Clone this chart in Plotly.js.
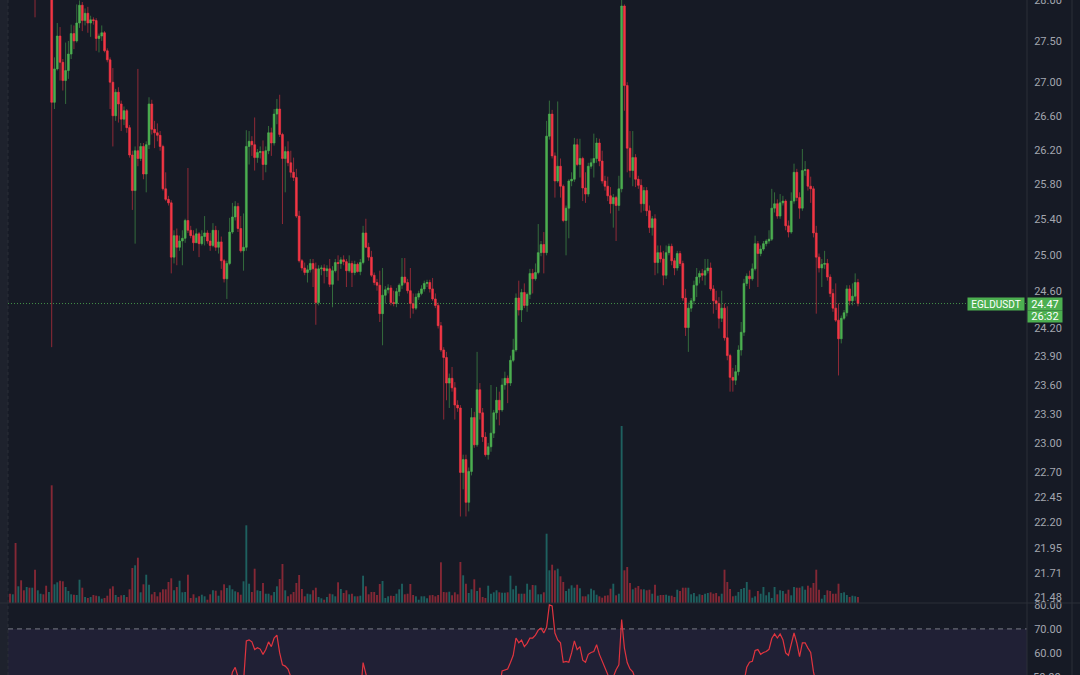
<!DOCTYPE html>
<html><head><meta charset="utf-8">
<script src="https://cdn.plot.ly/plotly-3.0.1.min.js"></script>
<style>html,body{margin:0;padding:0;background:#161a25;overflow:hidden}#chart{width:1080px;height:675px}</style>
</head><body><div id="chart"></div>
<script>
const symbol = 'EGLDUSDT';
const countdown = '26:32';

const open = [
28.62,28.55,28.60,28.30,28.42,28.28,28.22,28.35,28.27,28.40,
28.12,28.25,28.33,28.28,28.20,28.26,26.76,27.16,27.56,27.24,
27.02,27.14,27.34,27.59,27.50,27.72,27.94,27.75,27.84,27.72,
27.76,27.75,27.53,27.56,27.60,27.38,27.27,27.00,26.60,26.88,
26.74,26.56,26.66,26.46,26.14,25.73,26.19,26.10,26.24,25.92,
26.26,26.74,26.44,26.40,26.37,26.24,25.75,25.63,25.59,24.98,
25.22,25.09,25.16,25.19,25.39,25.28,25.22,25.14,25.24,25.13,
25.21,25.25,25.16,25.11,25.28,25.09,25.15,24.94,24.74,24.91,
25.26,25.43,25.55,25.30,25.05,25.09,26.24,26.30,26.26,26.11,
26.17,26.18,26.03,26.19,26.40,26.28,26.62,26.68,26.38,26.10,
26.18,26.05,25.94,25.88,25.44,24.94,24.86,24.81,24.84,24.91,
24.85,24.48,24.85,24.86,24.83,24.85,24.68,24.83,24.92,24.91,
24.95,24.93,24.83,24.91,24.81,24.90,24.82,24.92,25.25,25.09,
24.98,24.78,24.70,24.67,24.36,24.56,24.62,24.64,24.48,24.47,
24.60,24.67,24.76,24.70,24.61,24.47,24.42,24.54,24.58,24.63,
24.69,24.70,24.63,24.52,24.45,24.23,23.97,23.89,23.62,23.67,
23.57,23.39,23.36,22.70,22.83,22.40,22.71,23.26,22.98,23.55,
23.31,23.06,22.88,22.96,23.10,23.31,23.44,23.34,23.60,23.67,
23.62,23.86,23.97,24.53,24.40,24.59,24.45,24.57,24.80,24.74,
24.81,25.03,25.12,25.03,26.36,26.62,26.13,25.84,26.01,25.78,
25.39,25.53,25.84,25.86,26.26,26.03,26.10,25.76,25.69,26.01,
26.05,26.10,26.28,26.07,25.84,25.78,25.67,25.58,25.65,25.56,
25.75,27.93,26.96,26.22,25.96,26.11,25.86,25.79,25.58,25.73,
25.50,25.31,25.41,24.92,25.03,24.96,24.78,25.03,25.10,24.94,
24.86,25.02,24.91,24.53,24.21,24.42,24.50,24.67,24.76,24.80,
24.78,24.83,24.86,24.63,24.50,24.47,24.31,24.42,24.10,23.91,
23.68,23.65,23.74,23.97,24.16,24.69,24.77,24.74,24.85,25.13,
25.02,25.07,25.13,25.16,25.18,25.53,25.58,25.44,25.59,25.61,
25.33,25.26,25.61,25.94,25.65,25.53,25.96,25.97,25.78,25.75,
25.25,24.98,24.86,24.90,24.91,24.76,24.58,24.42,24.29,24.09,
24.31,24.37,24.63,24.50,24.55,24.70];

const high = [
28.66,28.64,28.62,28.46,28.45,28.32,28.38,28.40,28.45,28.44,
28.30,28.38,28.36,28.31,28.30,28.30,27.30,27.72,27.67,27.28,
27.48,27.50,27.70,27.69,27.95,28.00,27.98,27.90,27.92,27.81,
27.79,27.78,27.59,27.69,27.62,27.41,27.30,27.17,26.92,26.94,
26.78,26.71,26.68,26.49,26.19,26.24,27.16,26.28,26.28,26.30,
26.82,26.79,26.54,26.51,26.42,26.26,25.94,25.67,25.62,25.28,
25.30,25.22,25.28,25.41,25.99,25.33,25.28,25.30,25.26,25.28,
25.44,25.28,25.25,25.36,25.33,25.28,25.21,24.96,24.94,25.42,
25.59,25.61,25.59,25.44,25.47,26.43,26.42,26.36,26.58,26.21,
26.24,26.31,26.24,26.48,26.46,26.68,26.80,26.85,26.40,26.24,
26.30,26.19,26.11,25.98,25.50,24.96,24.92,24.89,24.96,24.96,
24.92,24.89,24.89,24.90,24.89,24.96,24.88,24.96,25.00,24.98,
25.00,24.96,25.00,24.94,24.94,24.92,24.96,25.33,25.41,25.14,
25.05,24.81,24.74,24.83,24.86,24.66,24.68,24.67,24.61,24.64,
24.69,24.97,24.97,24.74,24.86,24.58,24.58,24.61,24.67,24.72,
24.73,24.73,24.75,24.58,24.48,24.27,24.00,23.95,23.72,23.79,
23.63,23.44,23.39,22.88,22.88,22.75,23.36,23.32,23.95,23.62,
23.36,23.11,23.00,23.60,23.34,23.58,23.53,23.67,23.74,23.70,
23.91,24.09,24.58,24.72,24.63,24.69,24.59,24.85,24.85,24.91,
25.35,25.16,25.26,26.54,26.78,26.67,26.17,26.77,26.10,25.80,
25.56,25.86,25.94,26.34,26.33,26.33,26.12,25.94,26.05,26.10,
26.39,26.34,26.33,26.19,25.90,25.89,25.77,25.69,25.67,25.90,
28.02,27.95,27.00,26.42,26.42,26.15,25.90,25.86,25.77,25.77,
25.56,25.44,25.46,25.11,25.11,25.05,25.11,25.13,25.13,24.97,
25.05,25.05,24.94,24.63,24.48,24.53,24.72,24.86,24.83,24.85,
24.96,24.96,24.92,24.67,24.61,24.54,24.61,24.47,24.44,23.93,
23.78,23.81,24.02,24.27,24.74,24.80,24.83,24.91,25.22,25.16,
25.11,25.16,25.18,25.28,25.75,25.71,25.63,25.69,25.67,25.63,
25.39,25.71,26.04,25.98,25.71,26.21,26.07,25.98,25.89,25.78,
25.33,25.02,24.96,25.05,24.96,24.79,24.63,24.69,24.47,24.34,
24.40,24.67,24.67,24.69,24.80,24.74];

const low = [
28.50,28.52,28.22,28.26,28.20,28.15,28.18,28.21,28.24,27.79,
28.06,28.20,28.22,28.12,28.15,24.00,26.68,27.14,27.02,26.90,
26.74,27.04,27.28,27.40,27.48,27.66,27.62,27.69,27.60,27.55,
27.70,27.38,27.36,27.50,27.36,27.24,26.68,26.24,26.54,26.52,
26.42,26.49,26.40,26.11,25.51,25.13,26.01,26.07,25.86,25.71,
26.21,26.38,26.22,26.30,26.19,25.73,25.61,25.56,24.80,24.91,
24.89,25.05,24.89,25.14,25.25,25.19,25.05,25.14,24.98,25.11,
25.11,25.13,25.05,25.09,25.05,25.02,24.85,24.70,24.52,24.89,
25.24,25.39,25.26,25.03,24.83,25.05,26.03,26.13,25.96,26.05,
26.10,25.85,25.94,26.15,26.13,26.25,26.50,26.35,25.35,25.71,
26.01,25.88,25.84,25.42,24.92,24.83,24.78,24.70,24.81,24.65,
24.24,24.45,24.78,24.69,24.76,24.65,24.43,24.81,24.72,24.85,
24.89,24.65,24.81,24.65,24.78,24.81,24.78,24.90,25.08,24.94,
24.76,24.67,24.61,24.27,24.02,24.47,24.58,24.45,24.44,24.43,
24.55,24.63,24.68,24.58,24.31,24.36,24.40,24.51,24.56,24.60,
24.65,24.59,24.50,24.42,24.20,23.95,23.24,23.44,23.36,23.53,
23.24,23.32,22.26,22.53,22.26,22.31,22.67,22.95,22.96,23.24,
23.01,22.86,22.83,22.91,23.05,23.24,23.18,23.32,23.55,23.41,
23.59,23.84,23.95,24.34,24.27,24.42,24.38,24.52,24.58,24.72,
24.79,24.99,24.80,25.00,26.32,26.10,25.65,25.82,25.65,25.37,
25.00,25.19,25.78,25.83,26.01,25.88,25.61,25.59,25.66,25.98,
25.88,26.05,26.01,25.81,25.73,25.61,25.47,25.31,25.16,25.50,
25.71,26.66,25.94,25.88,25.78,25.77,25.75,25.48,25.50,25.44,
25.25,25.22,24.78,24.80,24.92,24.67,24.74,25.00,24.89,24.78,
24.83,24.88,24.50,24.12,23.95,24.38,24.46,24.54,24.69,24.72,
24.67,24.80,24.61,24.36,24.40,24.20,24.27,24.07,23.86,23.53,
23.53,23.60,23.70,23.91,24.12,24.66,24.63,24.72,24.83,24.65,
24.99,25.05,25.10,25.13,25.16,25.48,25.41,25.41,25.56,25.28,
25.20,25.24,25.58,25.61,25.41,25.50,25.90,25.73,25.59,25.20,
24.36,24.81,24.65,24.85,24.72,24.54,24.38,24.27,23.70,24.04,
24.29,24.33,24.45,24.45,24.50,24.44];

const close = [
28.55,28.60,28.30,28.42,28.28,28.22,28.35,28.27,28.40,28.12,
28.25,28.33,28.28,28.20,28.26,26.76,27.16,27.56,27.24,27.02,
27.14,27.34,27.59,27.50,27.72,27.94,27.75,27.84,27.72,27.76,
27.75,27.53,27.56,27.60,27.38,27.27,27.00,26.60,26.88,26.74,
26.56,26.66,26.46,26.14,25.73,26.19,26.10,26.24,25.92,26.26,
26.74,26.44,26.40,26.37,26.24,25.75,25.63,25.59,24.98,25.22,
25.09,25.16,25.19,25.39,25.28,25.22,25.14,25.24,25.13,25.21,
25.25,25.16,25.11,25.28,25.09,25.15,24.94,24.74,24.91,25.26,
25.43,25.55,25.30,25.05,25.09,26.24,26.30,26.26,26.11,26.17,
26.18,26.03,26.19,26.40,26.28,26.62,26.68,26.38,26.10,26.18,
26.05,25.94,25.88,25.44,24.94,24.86,24.81,24.84,24.91,24.85,
24.48,24.85,24.86,24.83,24.85,24.68,24.83,24.92,24.91,24.95,
24.93,24.83,24.91,24.81,24.90,24.82,24.92,25.25,25.09,24.98,
24.78,24.70,24.67,24.36,24.56,24.62,24.64,24.48,24.47,24.60,
24.67,24.76,24.70,24.61,24.47,24.42,24.54,24.58,24.63,24.69,
24.70,24.63,24.52,24.45,24.23,23.97,23.89,23.62,23.67,23.57,
23.39,23.36,22.70,22.83,22.40,22.71,23.26,22.98,23.55,23.31,
23.06,22.88,22.96,23.10,23.31,23.44,23.34,23.60,23.67,23.62,
23.86,23.97,24.53,24.40,24.59,24.45,24.57,24.80,24.74,24.81,
25.03,25.12,25.03,26.36,26.62,26.13,25.84,26.01,25.78,25.39,
25.53,25.84,25.86,26.26,26.03,26.10,25.76,25.69,26.01,26.05,
26.10,26.28,26.07,25.84,25.78,25.67,25.58,25.65,25.56,25.75,
27.93,26.96,26.22,25.96,26.11,25.86,25.79,25.58,25.73,25.50,
25.31,25.41,24.92,25.03,24.96,24.78,25.03,25.10,24.94,24.86,
25.02,24.91,24.53,24.21,24.42,24.50,24.67,24.76,24.80,24.78,
24.83,24.86,24.63,24.50,24.47,24.31,24.42,24.10,23.91,23.68,
23.65,23.74,23.97,24.16,24.69,24.77,24.74,24.85,25.13,25.02,
25.07,25.13,25.16,25.18,25.53,25.58,25.44,25.59,25.61,25.33,
25.26,25.61,25.94,25.65,25.53,25.96,25.97,25.78,25.75,25.25,
24.98,24.86,24.90,24.91,24.76,24.58,24.42,24.29,24.09,24.31,
24.37,24.63,24.50,24.55,24.70,24.47];

// volume, thousand EGLD
const volume = [
9.3,8.7,60,16.7,22.7,12.7,16,15.3,15.3,33.3,
12.7,9.3,8.7,17.3,11,117.7,18.7,20.7,22.3,21.7,
16,12,8.7,8.3,8,23.3,15.3,6,5,6,
8,7.3,6.7,4.3,5,7.3,14.3,16.7,8,6,
7.7,8,6,13.7,35,37.7,45.3,10.7,18.7,28.3,
18.3,8.7,11,6.7,10.7,13.7,13.7,21,24.7,12.7,
16,22.3,10.7,11,28.3,5,8.7,5.3,6.7,8.3,
6.7,3.3,8.7,12.7,12.3,7.3,12.7,18.7,15,17.7,
13.7,11.7,10.7,8.3,21.7,77.7,19.3,11,34.3,12.7,
12,20,9.3,9.3,7.7,11,16.7,24,39,12.7,
6.7,8.7,11,20,28,14,6.7,9.3,8.7,12.7,
15.3,6,4.7,3.3,6,9.3,8.7,6.7,20.7,14,
10,12.7,8.7,9.3,6.7,6.7,7.3,27.3,16.7,8.7,
11,11,8,19,22,5,6.7,7.3,7,9.3,
13.7,19.3,8.7,9.3,19,8,6.7,3.3,6.7,6.7,
4.7,7.7,8,6.7,8,40.7,11,10.7,11.3,
7.7,10.7,8.7,41,27.7,19.3,10,13.7,23.7,12,
15.3,6,5,17.3,9.3,10.7,12.7,10.7,10.3,10.3,
10.7,27.3,13.7,17.3,9.3,9.3,9.3,19.3,13.3,18,
17.7,8.7,8.7,10.7,69.3,32.7,38.3,32.7,34.3,26.7,
21,12,14.3,17.7,15.3,18.3,14.7,6.7,6.7,8.7,
14.3,12.7,8.3,6.7,5.3,7.3,7.7,14.3,19.3,7.7,
9.3,177,32.7,36,20,13.7,15.3,17,13.7,13.7,
12.7,13.3,9.3,18.3,7.3,8,8,8.3,7.3,7.3,
6,13.3,12,15.3,15.3,15.3,8.7,10,6.7,8.7,
8,9.3,10,10.7,9.3,10,6.7,9.3,33.3,21,
14,6.7,7.3,11,14,15,21,13.3,5.3,6.7,
12,9.3,16,7.7,10.7,5,16,8.7,12.7,12,
9.3,13.3,7.7,16,15.3,15.3,16.7,13.3,17.3,15.3,
20,33.3,13.3,4.3,8,12.7,12,9.3,9.3,19.3,
10,10.7,8,6,7.3,6.7,6];

const rsi = [
48,47,44,46,44,43,46,45,47,42,
44,46,45,44,45,30,35,40,39,37,
38,40,43,42,46,49,47,48,46,47,
47,44,45,45,42,41,38,34,38,36,
34,36,34,31,27,35,34,36,33,38,
44,40,40,40,38,33,32,32,26,30,
29,30,31,34,33,32,31,33,32,33,
34,33,32,35,33,34,31,29,33,46,
52,54,50,47,48,65,65.4,64.6,61.4,62.2,
61.6,59.4,61.4,64.6,62.6,66.2,67.4,60,55,54.5,
53.3,50,48,42,36,35,34,36,38,37,
32,38,38,37,38,35,38,40,40,41,
41,39,41,39,41,40,42,56,49,46,
42,40,39,34,40,42,42,39,39,42,
43,45,43,41,38,37,40,41,42,43,
43,42,39,37,33,29,28,25,27,25,
22,22,16,20,16,24,34,30,40,37,
34,32,34,37,42,46,45,52.5,52.8,53.3,
56,59,66.2,64.2,65.4,62.6,64,66.2,66.2,67.4,
69.5,70.3,68.3,70.7,80,79.6,68.3,65.4,64.2,56.1,
56.5,56.1,60,65,61.4,62.6,57,56.1,59.4,60.2,
60.6,63.4,59.4,56.5,53.3,51,49,50,53,55,
73.9,62,56,53.3,52.1,49,48,45,47,44,
42,43,37,39,38,36,40,41,38,37,
40,38,33,29,33,35,38,40,41,40,
42,42,38,36,36,34,37,32,30,27,
27,30,35,39,48,54,56.1,56.5,61,61.4,
59.4,60.2,60.6,61.5,66,67.9,66.2,67.9,65.5,60,
59,64,68.3,64.2,58.5,64.2,64.2,62,60.2,52.1,
45,42,43,43,40,37,34,32,29,34,
35,40,38,39,42,38];

const priceTicks = [28.00,27.50,27.00,26.60,26.20,25.80,25.40,25.00,24.60,24.20,23.90,23.60,23.30,23.00,22.70,22.45,22.20,21.95,21.71,21.48];
const rsiTicks = [60,70,80];
const rsiBands = [30,70];

// ---- styling ----
const BG = '#161a25';
const UP = '#4caf50', DN = '#f23645';
const UP_WICK = 'rgba(76,175,80,0.55)', DN_WICK = 'rgba(242,54,69,0.55)';
const VOL_UP = 'rgba(38,166,154,0.5)', VOL_DN = 'rgba(242,54,69,0.5)';
const TXT = '#a3a6af';
const LINE = '#2a2e39';
const SPLIT = 72/675;
const XR = [-0.72, 365.8];
const FONT = 'Roboto, "Liberation Sans", sans-serif';

const idx = close.map((_, i) => i);
const isUp = close.map((c, i) => c >= open[i]);
const last = close[close.length - 1];

function wickTrace(flag, color) {
  const x = [], y = [];
  idx.forEach(i => { if (isUp[i] === flag) { x.push(i, i, null); y.push(low[i], high[i], null); } });
  return {type:'scatter', mode:'lines', x, y, line:{color, width:1}, hoverinfo:'skip'};
}

const traces = [
  {type:'scatter', mode:'lines', x:XR, y:[last,last], line:{color:'rgba(76,175,80,0.8)', width:1, dash:'1px,2px'}, hoverinfo:'skip'},
  wickTrace(true, UP_WICK),
  wickTrace(false, DN_WICK),
  {type:'candlestick', x:idx, open:open, close:close,
   high: open.map((o,i)=>Math.max(o, close[i])), low: open.map((o,i)=>Math.min(o, close[i])),
   increasing:{line:{color:UP, width:0.6}, fillcolor:UP},
   decreasing:{line:{color:DN, width:0.6}, fillcolor:DN},
   whiskerwidth:0, hoverinfo:'skip'},
  {type:'bar', x:idx, y:volume, yaxis:'y2', width:0.68,
   marker:{color:isUp.map(u=>u?VOL_UP:VOL_DN), line:{width:0}}, hoverinfo:'skip'},
  {type:'scatter', mode:'lines', x:idx, y:rsi, yaxis:'y3', line:{color:'#e0343f', width:1.2}, hoverinfo:'skip'}
];

const layout = {
  width:1080, height:675,
  margin:{l:8, r:53, t:0, b:0, pad:0},
  paper_bgcolor:BG, plot_bgcolor:BG,
  showlegend:false, hovermode:false,
  font:{family:FONT, size:11, color:TXT},
  boxgap:0.25, boxgroupgap:0.1,
  xaxis:{range:XR, visible:false, fixedrange:true, rangeslider:{visible:false}},
  yaxis:{type:'log', domain:[SPLIT,1], range:[Math.log10(21.42), Math.log10(28.005)],
         side:'right', tickvals:priceTicks, ticktext:priceTicks.map(v=>v.toFixed(2)),
         showgrid:false, zeroline:false, showline:false, ticklabeloverflow:'allow',
         ticks:'outside', ticklen:4, tickcolor:'rgba(0,0,0,0)',
         tickfont:{family:FONT, size:11, color:TXT}, fixedrange:true},
  yaxis2:{overlaying:'y', range:[0,603], visible:false, fixedrange:true},
  yaxis3:{domain:[0,SPLIT], range:[50.8,80.8], anchor:'x', side:'right',
          tickvals:rsiTicks, ticktext:rsiTicks.map(v=>v.toFixed(2)),
          showgrid:false, zeroline:false, showline:false, ticklabeloverflow:'allow',
          ticks:'outside', ticklen:4, tickcolor:'rgba(0,0,0,0)',
          tickfont:{family:FONT, size:11, color:TXT}, fixedrange:true},
  shapes:[
    {type:'rect', xref:'paper', yref:'y3', x0:0, x1:1, y0:rsiBands[0], y1:rsiBands[1], fillcolor:'rgba(126,87,194,0.10)', line:{width:0}, layer:'below'},
    {type:'line', xref:'paper', yref:'y3', x0:0, x1:1, y0:rsiBands[1], y1:rsiBands[1], line:{color:'#787b86', width:1, dash:'5px,4px'}, layer:'below'},
    {type:'rect', xref:'paper', yref:'paper', x0:-8/1019, x1:0, y0:0, y1:1, fillcolor:'#1e222d', line:{width:0}},
    {type:'line', xref:'paper', yref:'paper', x0:0, x1:0, y0:0, y1:1, line:{color:LINE, width:1, dash:'dot'}},
    {type:'line', xref:'paper', yref:'paper', x0:-8/1019, x1:72/1019+1, y0:SPLIT, y1:SPLIT, line:{color:LINE, width:1}},
    {type:'line', xref:'paper', yref:'paper', x0:1, x1:1, y0:0, y1:1, line:{color:LINE, width:1}},
    {type:'line', xref:'paper', yref:'paper', x0:1+45/1019, x1:1+45/1019, y0:0, y1:1, line:{color:LINE, width:1}}
  ],
  annotations:[
    {xref:'paper', yref:'y', x:1, y:Math.log10(last), xanchor:'right', yanchor:'middle', xshift:-2,
     text:symbol, showarrow:false, bgcolor:'#4caf50', width:56, height:12, borderpad:0,
     font:{family:FONT, size:10, color:'#ffffff'}},
    {xref:'paper', yref:'y', x:1, y:Math.log10(last), xanchor:'left', yanchor:'middle', xshift:0,
     text:last.toFixed(2), showarrow:false, bgcolor:'#4caf50', width:34, height:12, borderpad:0,
     font:{family:FONT, size:11, color:'#ffffff'}},
    {xref:'paper', yref:'y', x:1, y:Math.log10(last), xanchor:'left', yanchor:'top', xshift:0, yshift:-6,
     text:countdown, showarrow:false, bgcolor:'#4caf50', width:34, height:11, borderpad:0,
     font:{family:FONT, size:11, color:'#ffffff'}},
    {xref:'paper', yref:'paper', x:1, y:-2/675, xanchor:'left', yanchor:'middle', xshift:4,
     text:(50).toFixed(2), showarrow:false, font:{family:FONT, size:11, color:TXT}}
  ]
};

Plotly.newPlot('chart', traces, layout, {staticPlot:true, displayModeBar:false});
</script>
</body></html>
